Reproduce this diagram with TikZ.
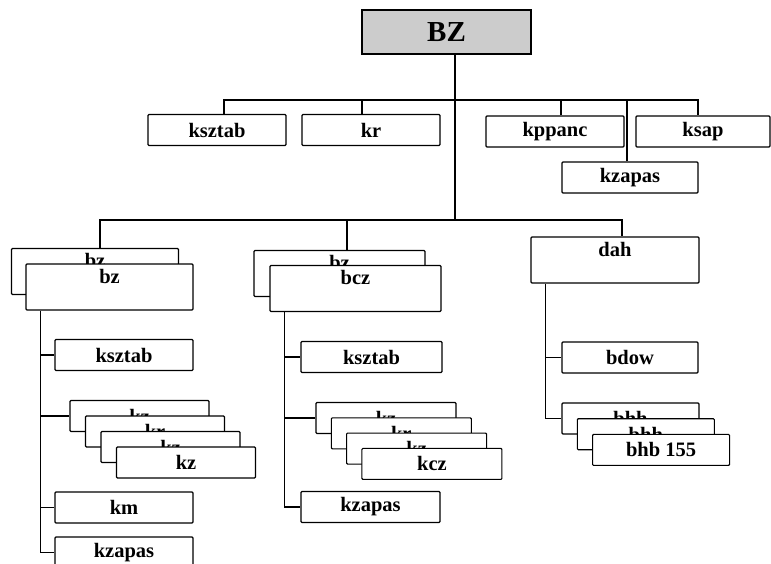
\documentclass[tikz,border=0pt]{standalone}
\usepackage{fontspec}
\setmainfont{Liberation Serif}
\begin{document}
\begin{tikzpicture}[x=1pt,y=-1pt,line width=1.1pt,
    smallbox/.style={draw,fill=white,rounded corners=1pt,inner sep=0pt,
        minimum width=138pt,minimum height=31pt,font=\fontsize{20.5}{23}\selectfont\bfseries},
    bigbox/.style={draw,fill=white,rounded corners=1pt,inner sep=2pt,
        minimum width=167pt,text height=17pt,text depth=25pt,
        font=\fontsize{20.5}{23}\selectfont\bfseries},
    rootbox/.style={draw,fill=black!20,inner sep=0pt,
        minimum width=169pt,minimum height=44pt,font=\fontsize{29}{31}\selectfont\bfseries}]
\useasboundingbox (0,0) rectangle (771,563);
% root and first row
\node[rootbox](BZ) at (446.5,32){BZ};
\node[smallbox](ksztab) at (217,130){ksztab};
\node[smallbox](kr) at (371,130){kr};
\node[smallbox](kppanc) at (555,131.5){kppanc};
\node[smallbox,minimum width=134pt](ksap) at (703,131.5){ksap};
\node[smallbox,minimum width=136pt](kzapas) at (630,177.5){kzapas};
\coordinate (tM) at ([xshift=8.5pt]BZ.south);
\coordinate (j1) at (tM |- 0,100);
\coordinate (j2) at (tM |- 0,220);
\draw (tM)--(j2);
\draw ([xshift=7pt]ksztab.north) |- ([xshift=-5pt]ksap.north |- j1)--([xshift=-5pt]ksap.north);
\draw ([xshift=-9pt]kr.north)--([xshift=-9pt]kr.north |- j1);
\draw ([xshift=6pt]kppanc.north)--([xshift=6pt]kppanc.north |- j1);
\draw ([xshift=-3pt]kzapas.north)--([xshift=-3pt]kzapas.north |- j1);
% second row
\node[bigbox](bzB) at (95,271.5){bz};
\node[bigbox](bzF) at (109.5,287){bz};
\node[bigbox,minimum width=171pt](bczB) at (339.5,273.5){bz};
\node[bigbox,minimum width=171pt](bczF) at (355.5,288.5){bcz};
\node[bigbox,minimum width=168pt](dah) at (615,260){dah};
\draw ([xshift=5pt]bzB.north) |- ([xshift=7pt]dah.north |- j2)--([xshift=7pt]dah.north);
\draw ([xshift=7.5pt]bczB.north)--([xshift=7.5pt]bczB.north |- j2);
% left column
\node[smallbox](ksztabA) at (124,355){ksztab};
\foreach \lbl [count=\i] in {kz,kr,kz,kz}
    \node[smallbox,minimum width=139pt](kzA\i) at ({139.5+15.5*(\i-1)},{416+15.5*(\i-1)}){\lbl};
\node[smallbox](km) at (124,507.5){km};
\node[smallbox](kzapasA) at (124,552.5){kzapas};
\coordinate (tL) at ([xshift=15pt]bzF.south west);
\draw (tL) |- (kzapasA.west);
\draw (tL |- ksztabA.west)--(ksztabA.west);
\draw (tL |- kzA1.west)--(kzA1.west);
\draw (tL |- km.west)--(km.west);
% middle column
\node[smallbox,minimum width=141pt](ksztabB) at (371.5,357){ksztab};
\foreach \lbl [count=\i] in {kz,kr,kz,kcz}
    \node[smallbox,minimum width=140pt](kzB\i) at ({386+15.3*(\i-1)},{418+15.3*(\i-1)}){\lbl};
\node[smallbox,minimum width=139pt](kzapasB) at (370.5,507){kzapas};
\coordinate (tC) at ([xshift=15pt]bczF.south west);
\draw (tC) |- (kzapasB.west);
\draw (tC |- ksztabB.west)--(ksztabB.west);
\draw (tC |- kzB1.west)--(kzB1.west);
% right column
\node[smallbox,minimum width=136pt](bdow) at (630,357.5){bdow};
\foreach \lbl [count=\i] in {bhh,bhh,bhb 155}
    \node[smallbox,minimum width=137pt](bhh\i) at ({630.5+15.3*(\i-1)},{418.5+15.7*(\i-1)}){\lbl};
\coordinate (tR) at ([xshift=15pt]dah.south west);
\draw (tR) |- (bhh1.west);
\draw (tR |- bdow.west)--(bdow.west);
\end{tikzpicture}
\end{document}
